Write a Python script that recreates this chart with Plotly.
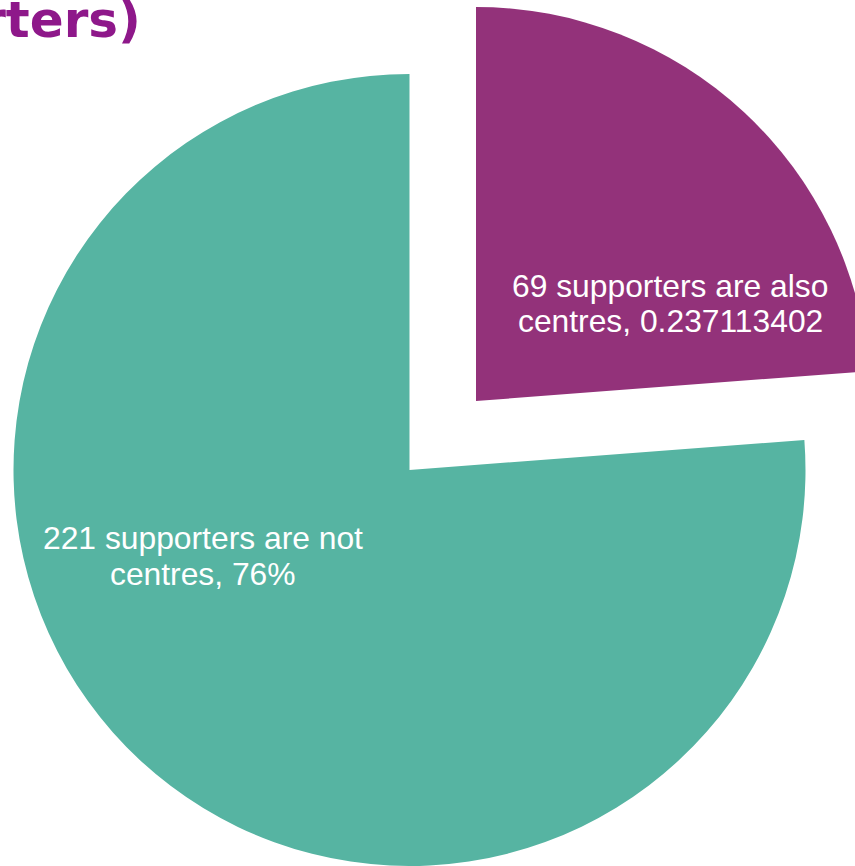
import plotly.graph_objects as go

# ---- data ----
categories = ["Also centres", "Not centres"]
counts = [69, 221]
label_lines = [
    ["69 supporters are also", "centres, 0.237113402"],
    ["221 supporters are not", "centres, 76%"],
]
title_text = "Supporters who are also centres (290 supporters)"

# ---- styles ----
W, H = 872, 866
purple = "rgb(147,50,122)"
teal = "rgb(86,180,162)"
title_color = "rgb(142,24,138)"
clear = "rgba(0,0,0,0)"
FONT = "Arial, 'Liberation Sans', sans-serif"
TITLE_FONT = "'DejaVu Sans', Verdana, sans-serif"


def dom(cx, cy, r):
    return dict(x=[max(0, (cx - r) / W), min(1, (cx + r) / W)],
                y=[max(0, 1 - (cy + r) / H), min(1, 1 - (cy - r) / H)])


common = dict(labels=categories, values=counts, sort=False, direction="clockwise",
              rotation=0, textinfo="none", hoverinfo="label+value",
              showlegend=False, marker_line_width=0)

fig = go.Figure()
# main (teal) pie
fig.add_trace(go.Pie(**common, domain=dom(409.5, 470, 396),
                     marker_colors=[clear, teal]))
# exploded (purple) slice
fig.add_trace(go.Pie(**common, domain=dom(476, 401, 394),
                     marker_colors=[purple, clear]))

annotations = []
# label positions (centre x, middle y of each line) in pixels
label_pos = [(670, [286, 321]), (203, [538, 574])]
for lines, (lx, lys) in zip(label_lines, label_pos):
    for line, ly in zip(lines, lys):
        annotations.append(dict(text=line, x=lx / W, y=1 - ly / H, xref="paper", yref="paper",
                                xanchor="center", yanchor="middle", showarrow=False,
                                font=dict(family=FONT, size=31.8, color="white")))

annotations.append(dict(text="<b>" + title_text + "</b>", x=143 / W, y=1 - 20 / H,
                        xref="paper", yref="paper", xanchor="right", yanchor="middle",
                        showarrow=False,
                        font=dict(family=TITLE_FONT, size=50, color=title_color)))

fig.update_layout(width=W, height=H, margin=dict(l=0, r=0, t=0, b=0),
                  paper_bgcolor="white", plot_bgcolor="white",
                  annotations=annotations)

fig.write_html("out.html", config={"displayModeBar": False},
               post_script="document.body.style.margin='0';"
                           "document.body.style.overflow='hidden';"
                           "document.documentElement.style.overflow='hidden';")
